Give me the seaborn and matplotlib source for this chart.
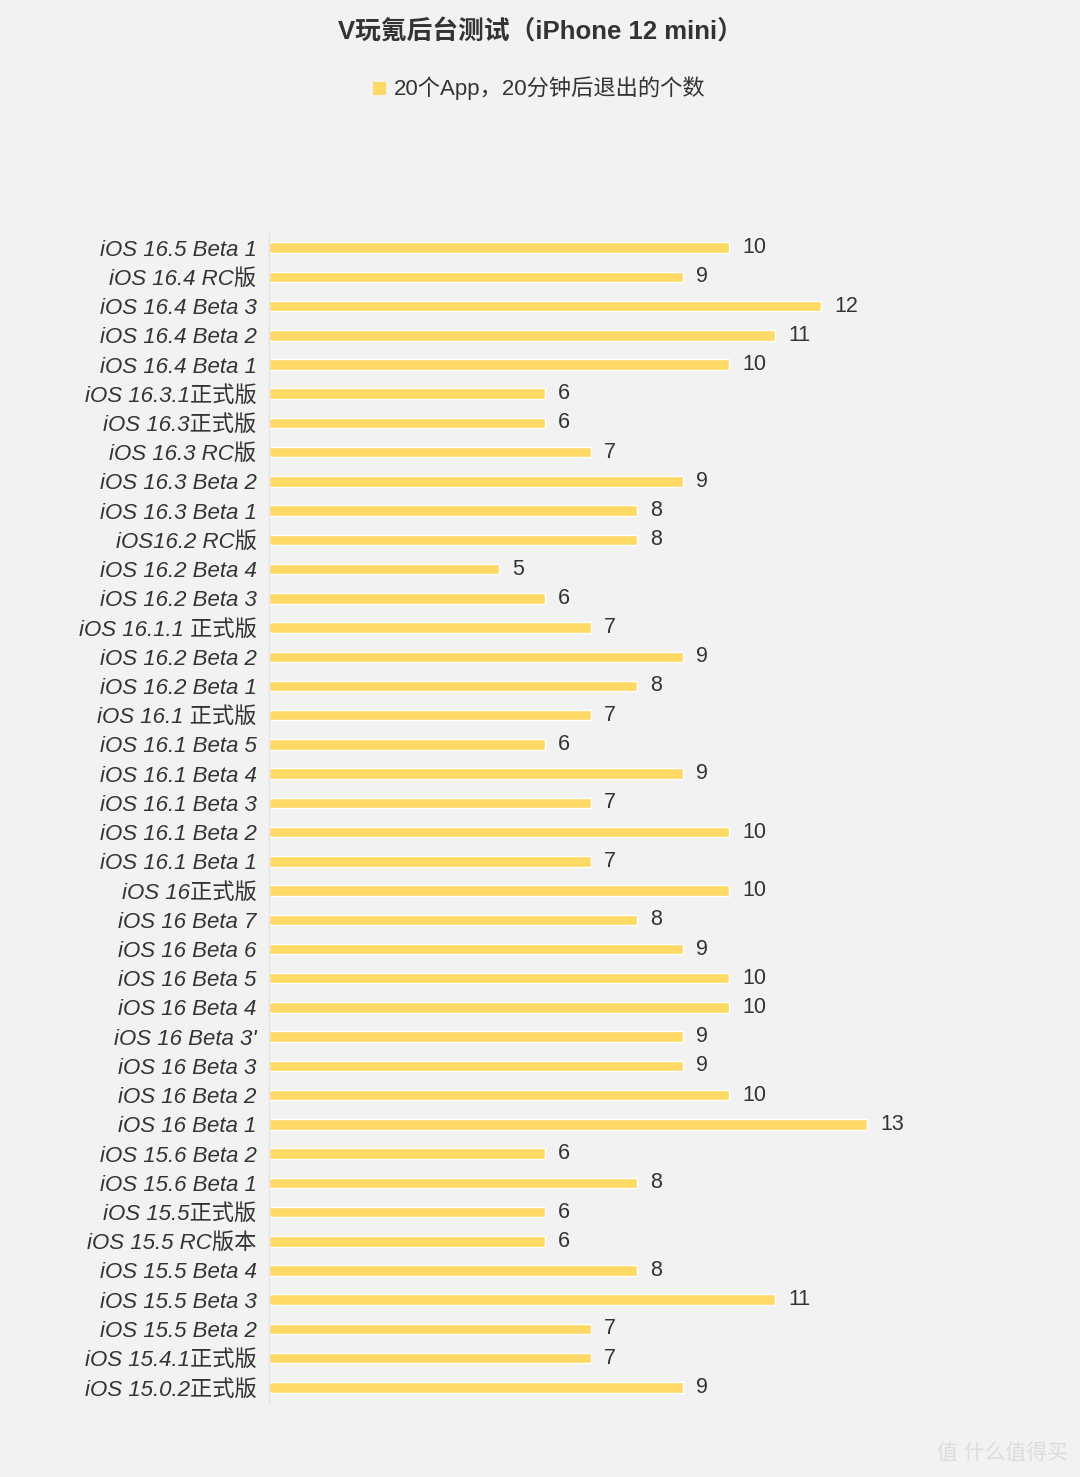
import matplotlib
matplotlib.use("Agg")
import matplotlib.pyplot as plt
import pandas as pd
import seaborn as sns
from matplotlib.patches import Rectangle

versions = [
    "iOS 16.5 Beta 1", "iOS 16.4 RC版", "iOS 16.4 Beta 3", "iOS 16.4 Beta 2",
    "iOS 16.4 Beta 1", "iOS 16.3.1正式版", "iOS 16.3正式版", "iOS 16.3 RC版",
    "iOS 16.3 Beta 2", "iOS 16.3 Beta 1", "iOS16.2 RC版", "iOS 16.2 Beta 4",
    "iOS 16.2 Beta 3", "iOS 16.1.1 正式版", "iOS 16.2 Beta 2", "iOS 16.2 Beta 1",
    "iOS 16.1 正式版", "iOS 16.1 Beta 5", "iOS 16.1 Beta 4", "iOS 16.1 Beta 3",
    "iOS 16.1 Beta 2", "iOS 16.1 Beta 1", "iOS 16正式版", "iOS 16 Beta 7",
    "iOS 16 Beta 6", "iOS 16 Beta 5", "iOS 16 Beta 4", "iOS 16 Beta 3'",
    "iOS 16 Beta 3", "iOS 16 Beta 2", "iOS 16 Beta 1", "iOS 15.6 Beta 2",
    "iOS 15.6 Beta 1", "iOS 15.5正式版", "iOS 15.5 RC版本", "iOS 15.5 Beta 4",
    "iOS 15.5 Beta 3", "iOS 15.5 Beta 2", "iOS 15.4.1正式版", "iOS 15.0.2正式版",
]
quit_counts = [
    10, 9, 12, 11, 10, 6, 6, 7, 9, 8,
    8, 5, 6, 7, 9, 8, 7, 6, 9, 7,
    10, 7, 10, 8, 9, 10, 10, 9, 9, 10,
    13, 6, 8, 6, 6, 8, 11, 7, 7, 9,
]
series_name = "20个App，20分钟后退出的个数"
title = "V玩氪后台测试（iPhone 12 mini）"

bg = "#f2f2f2"
bar_color = "#ffd966"
text_color = "#333333"
fonts = ["Liberation Sans", "Noto Sans CJK SC", "DejaVu Sans"]

sns.set_theme(style="white")
plt.rcParams["font.family"] = fonts

df = pd.DataFrame({"version": versions, "count": quit_counts})

fig = plt.figure(figsize=(10.8, 14.77), dpi=100, facecolor=bg)
W, H = 1080, 1477
ax = fig.add_axes([269 / W, 1 - 1402 / H, (1000 - 269) / W, (1402 - 233) / H])
ax.set_facecolor(bg)

sns.barplot(data=df, x="count", y="version", orient="h", color=bar_color,
            saturation=1, width=0.36, ax=ax)
ax.set_xlim(0, (1000 - 269) / 46)
ax.set_xlabel("")
ax.set_ylabel("")
ax.set_xticks([])
ax.tick_params(axis="y", length=0, pad=9)
for lab in ax.get_yticklabels():
    lab.set_fontstyle("italic")
    lab.set_fontsize(16)
    lab.set_color(text_color)

for i, v in enumerate(quit_counts):
    ax.text(v + 0.28, i, str(v), va="center", ha="left", fontsize=15.5,
            color=text_color)

for side in ["top", "right", "bottom"]:
    ax.spines[side].set_visible(False)
ax.spines["left"].set_color("#e4e4e4")
ax.spines["left"].set_linewidth(1)

fig.text(0.5, 1 - 32 / H, title, ha="center", va="center", fontsize=18.5,
         fontweight="bold", color=text_color)

# legend
fig.patches.append(Rectangle((373 / W, 1 - 95 / H), 13 / W, 13 / H,
                             transform=fig.transFigure, facecolor=bar_color,
                             edgecolor="none"))
fig.text(394 / W, 1 - 88 / H, series_name, ha="left", va="center", fontsize=16,
         color=text_color)

# watermark
fig.text(1068 / W, 1 - 1453 / H, "值 什么值得买", ha="right", va="center",
         fontsize=15, color="#dcdcdc")

fig.savefig("out.png", dpi=100, facecolor=bg)
